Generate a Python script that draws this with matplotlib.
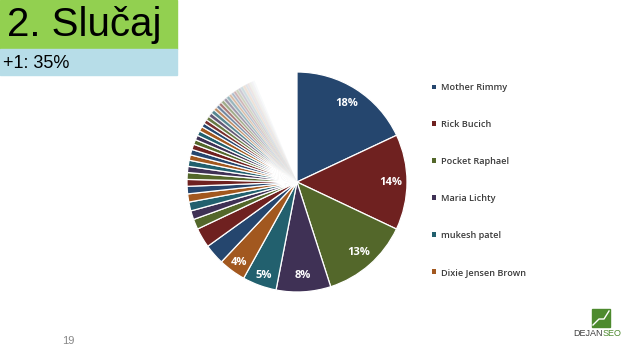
"""Pie chart of shares per author, recreated from a slide."""

from matplotlib import pyplot
from matplotlib.patches import Patch, Rectangle
import numpy

# Named slices (clockwise from 12 o'clock), percent.
names = ['Mother Rimmy', 'Rick Bucich', 'Pocket Raphael', 'Maria Lichty',
         'mukesh patel', 'Dixie Jensen Brown']
shares = [18, 14, 13, 8, 5, 4]

# The long tail of small contributors.
others = [3.0, 2.9, 1.5, 1.3, 1.3, 1.2, 1.1, 1.0, 1.0,
          0.9, 0.9, 0.8, 0.8, 0.8, 0.7, 0.7, 0.7, 0.7, 0.6, 0.6, 0.6,
          0.6, 0.6, 0.5, 0.5, 0.5, 0.5, 0.5, 0.5, 0.4, 0.4, 0.4, 0.4,
          0.4, 0.4, 0.4, 0.3, 0.3, 0.3] + [0.3] * 23

palette = ['#25466e', '#6f2120', '#53672a', '#3f3155', '#22606e', '#a2581f']

values = shares + others
colors = [palette[i % len(palette)] for i in range(len(values))]

fig = pyplot.figure(figsize=(6.38, 3.59), dpi=100)
fig.patch.set_facecolor('white')

# Title boxes.
W, H = 638.0, 359.0
fig.patches.append(Rectangle((0, 1 - 49 / H), 177 / W, 49 / H,
                             transform=fig.transFigure, color='#92d050',
                             zorder=0))
fig.patches.append(Rectangle((0, 1 - 75 / H), 177 / W, 26 / H,
                             transform=fig.transFigure, color='#b7dde8',
                             zorder=0))
fig.text(7 / W, 1 - 25 / H, '2. Slučaj', family='Liberation Sans',
         fontsize=29, va='center', ha='left', color='black')
fig.text(3 / W, 1 - 63 / H, '+1: 35%', family='Liberation Sans',
         fontsize=13, va='center', ha='left', color='black')

# Pie axes: centre (297, 182) px, radius 110 px.
cx, cy, r = 297.0, 182.0, 110.0
ax = fig.add_axes([(cx - r) / W, 1 - (cy + r) / H, 2 * r / W, 2 * r / H])

wedges, _ = ax.pie(values, colors=colors, startangle=90, counterclock=False,
                   radius=1.0, normalize=True,
                   wedgeprops=dict(edgecolor='white', linewidth=0.9))
ax.set_xlim(-1, 1)
ax.set_ylim(-1, 1)
ax.axis('off')

# Fade the thin slices in the upper left.
cum = numpy.cumsum(values) / numpy.sum(values)
for w, c in zip(wedges, cum):
    if c > 0.84:
        w.set_alpha(max(0.0, 1 - (c - 0.84) / 0.10))

# Percentage labels on the named slices.
start = 0.0
for v in shares:
    mid = (start + v / 2) / 100 * 2 * numpy.pi
    start += v
    d = 0.85 if v > 5 else 0.9
    ax.text(d * numpy.sin(mid), d * numpy.cos(mid), f'{v}%',
            ha='center', va='center', color='white', fontsize=8,
            fontweight='bold', family='Open Sans')

handles = [Patch(facecolor=palette[i], edgecolor='none')
           for i in range(len(names))]
fig.legend(handles, names, loc='upper left',
           bbox_to_anchor=(424 / W, 1 - 75 / H), frameon=False,
           prop=dict(family='Open Sans', size=6.6, weight='semibold'),
           labelcolor='#3a3a3a', handlelength=0.45, handleheight=0.45,
           handletextpad=0.5, labelspacing=3.05)

# Slide number and logo.
fig.text(68 / W, 1 - 341 / H, '19', fontsize=8, color='#888888',
         ha='center', va='center', family='Liberation Sans')
fig.patches.append(Rectangle((592 / W, 1 - 327 / H), 18 / W, 18 / H,
                             transform=fig.transFigure, color='#4d8a2e'))
fig.lines.append(pyplot.Line2D(
    [(593 + dx) / W for dx in (0, 6, 11, 16)],
    [1 - (325 - dy) / H for dy in (0, 6, 6, 14)],
    transform=fig.transFigure, color='white', linewidth=1.0))
fig.text(603 / W, 1 - 334 / H, 'DEJAN', fontsize=6.5, color='#404040',
         ha='right', va='center', family='Liberation Sans')
fig.text(603 / W, 1 - 334 / H, 'SEO', fontsize=6.5, color='#4d8a2e',
         ha='left', va='center', family='Liberation Sans')

fig.savefig('out.png', dpi=100)
